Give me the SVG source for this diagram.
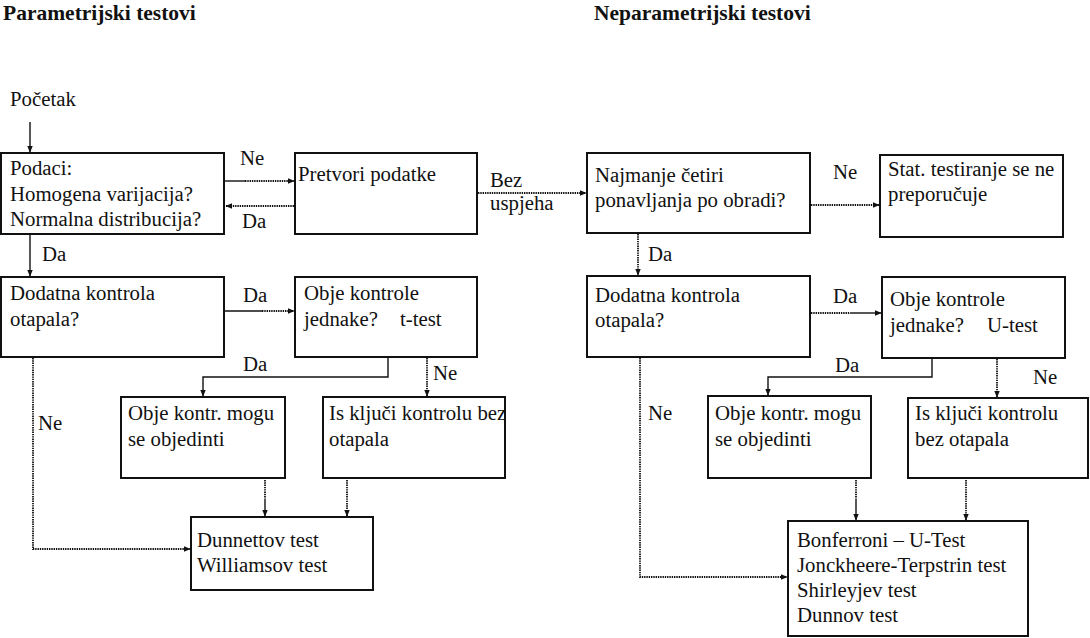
<svg xmlns="http://www.w3.org/2000/svg" width="1090" height="638" viewBox="0 0 1090 638">
<defs>
<style>
text{font-family:"Liberation Serif","Times New Roman",serif;font-size:20.8px;fill:#111}
.title{font-weight:bold;font-size:21.5px}
.box{fill:#fff;stroke:#111;stroke-width:2}
.ln{fill:none;stroke:#111;stroke-width:1.4}
.dt{fill:none;stroke:#111;stroke-width:1.8;stroke-dasharray:1.4 0.9}
</style>
<marker id="ah" viewBox="0 0 10 10" refX="9" refY="5" markerWidth="7" markerHeight="7" markerUnits="userSpaceOnUse" orient="auto">
<path d="M0,1 L10,5 L0,9 z" fill="#111"/>
</marker>
</defs>
<rect width="1090" height="638" fill="#fff"/>

<text class="title" x="3" y="20">Parametrijski testovi</text>
<text class="title" x="594" y="20">Neparametrijski testovi</text>
<text x="10" y="106">Početak</text>

<g id="n-podaci"><rect class="box" x="1" y="153" width="223" height="81"/>
<text x="10" y="175">Podaci:</text><text x="10" y="200.5">Homogena varijacija?</text><text x="10" y="226">Normalna distribucija?</text></g>
<g id="n-pretvori"><rect class="box" x="295" y="153" width="182" height="81"/>
<text x="298" y="181">Pretvori podatke</text></g>
<g id="n-dodatna-l"><rect class="box" x="1" y="277" width="223" height="80"/>
<text x="10" y="300">Dodatna kontrola</text><text x="10" y="326">otapala?</text></g>
<g id="n-obje-l"><rect class="box" x="295" y="277" width="182" height="80"/>
<text x="304" y="300">Obje kontrole</text><text x="304" y="326">jednake?</text><text x="400" y="326">t-test</text></g>
<g id="n-mogu-l"><rect class="box" x="121" y="397" width="164" height="81"/>
<text x="128" y="420">Obje kontr. mogu</text><text x="128" y="446">se objedinti</text></g>
<g id="n-iskljuci-l"><rect class="box" x="323" y="397" width="182" height="81"/>
<text x="329" y="420">Is ključi kontrolu bez</text><text x="329" y="446">otapala</text></g>
<g id="n-dunnett"><rect class="box" x="191" y="517" width="182" height="73"/>
<text x="197" y="547">Dunnettov test</text><text x="197" y="572">Williamsov test</text></g>

<g id="n-najmanje"><rect class="box" x="587" y="153" width="223" height="80"/>
<text x="595" y="182">Najmanje četiri</text><text x="595" y="207">ponavljanja po obradi?</text></g>
<g id="n-stat"><rect class="box" x="880" y="155" width="183" height="82"/>
<text x="888" y="176">Stat. testiranje se ne</text><text x="888" y="201">preporučuje</text></g>
<g id="n-dodatna-r"><rect class="box" x="587" y="276" width="223" height="81"/>
<text x="595" y="302">Dodatna kontrola</text><text x="595" y="327">otapala?</text></g>
<g id="n-obje-r"><rect class="box" x="882" y="277" width="183" height="81"/>
<text x="890" y="306">Obje kontrole</text><text x="890" y="332">jednake?</text><text x="987" y="332">U-test</text></g>
<g id="n-mogu-r"><rect class="box" x="708" y="396" width="163" height="82"/>
<text x="715" y="420">Obje kontr. mogu</text><text x="715" y="446">se objedinti</text></g>
<g id="n-iskljuci-r"><rect class="box" x="908" y="398" width="180" height="80"/>
<text x="915" y="420">Is ključi kontrolu</text><text x="915" y="446">bez otapala</text></g>
<g id="n-bonferroni"><rect class="box" x="788" y="521" width="240" height="115"/>
<text x="797" y="547">Bonferroni – U-Test</text><text x="797" y="572">Jonckheere-Terpstrin test</text><text x="797" y="597">Shirleyjev test</text><text x="797" y="622">Dunnov test</text></g>

<g id="connectors">
<line class="ln" x1="30" y1="122" x2="30" y2="152" marker-end="url(#ah)"/>
<line class="ln" x1="225" y1="181" x2="245" y2="181"/>
<line class="dt" x1="245" y1="181" x2="294" y2="181" marker-end="url(#ah)"/>
<line class="dt" x1="294" y1="206" x2="226" y2="206" marker-end="url(#ah)"/>
<line class="ln" x1="30" y1="235" x2="30" y2="276" marker-end="url(#ah)"/>
<line class="dt" x1="478" y1="193" x2="586" y2="193" marker-end="url(#ah)"/>
<line class="ln" x1="225" y1="311" x2="262" y2="311"/>
<line class="dt" x1="262" y1="311" x2="294" y2="311" marker-end="url(#ah)"/>
<polyline class="ln" points="388,358 388,377 203,377 203,396" marker-end="url(#ah)"/>
<line class="dt" x1="427" y1="358" x2="427" y2="396" marker-end="url(#ah)"/>
<polyline class="dt" points="33,358 33,549 190,549" marker-end="url(#ah)"/>
<line class="dt" x1="265" y1="480" x2="265" y2="500"/>
<line class="ln" x1="265" y1="500" x2="265" y2="516" marker-end="url(#ah)"/>
<line class="dt" x1="347" y1="480" x2="347" y2="516" marker-end="url(#ah)"/>

<line class="dt" x1="811" y1="205" x2="879" y2="205" marker-end="url(#ah)"/>
<line class="dt" x1="638" y1="234" x2="638" y2="275" marker-end="url(#ah)"/>
<line class="dt" x1="811" y1="313" x2="850" y2="313"/>
<line class="ln" x1="850" y1="313" x2="881" y2="313" marker-end="url(#ah)"/>
<polyline class="ln" points="932,359 932,377 768,377 768,395" marker-end="url(#ah)"/>
<line class="dt" x1="997" y1="359" x2="997" y2="397" marker-end="url(#ah)"/>
<polyline class="dt" points="640,358 640,577 787,577" marker-end="url(#ah)"/>
<line class="dt" x1="856" y1="480" x2="856" y2="500"/>
<line class="ln" x1="856" y1="500" x2="856" y2="520" marker-end="url(#ah)"/>
<line class="dt" x1="966" y1="480" x2="966" y2="520" marker-end="url(#ah)"/>
</g>

<g id="labels">
<text x="240" y="165">Ne</text>
<text x="242" y="228">Da</text>
<text x="490" y="187">Bez</text>
<text x="490" y="210">uspjeha</text>
<text x="42" y="261">Da</text>
<text x="243" y="302">Da</text>
<text x="243" y="371">Da</text>
<text x="433" y="380">Ne</text>
<text x="38" y="430">Ne</text>
<text x="833" y="179">Ne</text>
<text x="648" y="261">Da</text>
<text x="833" y="303">Da</text>
<text x="835" y="372">Da</text>
<text x="1033" y="384">Ne</text>
<text x="648" y="420">Ne</text>
</g>
</svg>
